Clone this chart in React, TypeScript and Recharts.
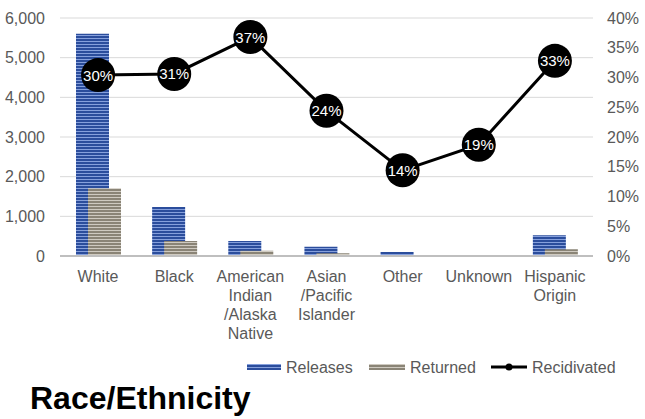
import React from 'react';
import { ComposedChart, Bar, Line, XAxis, YAxis, CartesianGrid, LabelList } from 'recharts';

const categories = ['White', 'Black', 'American Indian /Alaska Native', 'Asian /Pacific Islander', 'Other', 'Unknown', 'Hispanic Origin'];
const categoryLines = [['White'], ['Black'], ['American', 'Indian', '/Alaska', 'Native'], ['Asian', '/Pacific', 'Islander'], ['Other'], ['Unknown'], ['Hispanic', 'Origin']];
const releases = [5600, 1235, 380, 235, 100, 0, 520];
const returned = [1710, 378, 135, 68, 8, 0, 170];
const recidivated = [0.304, 0.306, 0.368, 0.244, 0.144, 0.187, 0.328];
const leftTicks = [0, 1000, 2000, 3000, 4000, 5000, 6000];
const rightTicks = [0, 0.05, 0.1, 0.15, 0.2, 0.25, 0.3, 0.35, 0.4];

const data = categories.map((c, i) => ({
  name: c,
  idx: i,
  releases: releases[i],
  returned: returned[i],
  recidivated: recidivated[i],
}));

const FONT = '"Liberation Sans", Arial, sans-serif';
const GRAY = '#595959';

const XTick = (props: any) => {
  const { x, y, payload } = props;
  const lines = categoryLines[payload.index] || [payload.value];
  return (
    <text x={x} y={y} textAnchor="middle" fill={GRAY} fontSize={16} fontFamily={FONT}>
      {lines.map((l: string, i: number) => (
        <tspan key={i} x={x} dy={i === 0 ? 18 : 19}>{l}</tspan>
      ))}
    </text>
  );
};

const CircleLabel = (props: any) => {
  const { x, y, value } = props;
  return (
    <g>
      <circle cx={x} cy={y} r={17} fill="#000" />
      <text x={x} y={y + 5.5} textAnchor="middle" fill="#fff" fontSize={15} fontFamily={FONT}>
        {Math.round(value * 100) + '%'}
      </text>
    </g>
  );
};

const LegendRow = () => (
  <svg width={645} height={30} style={{ position: 'absolute', left: 0, top: 353 }}>
    <defs>
      <pattern id="lgBlue" width="4" height="3" patternUnits="userSpaceOnUse">
        <rect width="4" height="3" fill="#2b4d9c" />
        <rect y="2" width="4" height="1" fill="#86a0dc" />
      </pattern>
      <pattern id="lgGray" width="4" height="3" patternUnits="userSpaceOnUse">
        <rect width="4" height="3" fill="#8a8476" />
        <rect y="2" width="4" height="1" fill="#cfcac0" />
      </pattern>
    </defs>
    <rect x={247} y={11} width={34} height={6} fill="url(#lgBlue)" />
    <text x={286} y={20} fontSize={16} fill={GRAY} fontFamily={FONT}>Releases</text>
    <rect x={369} y={11} width={36} height={6} fill="url(#lgGray)" />
    <text x={410} y={20} fontSize={16} fill={GRAY} fontFamily={FONT}>Returned</text>
    <line x1={491} x2={527} y1={14} y2={14} stroke="#000" strokeWidth={3} />
    <circle cx={509} cy={14} r={3.5} fill="#000" />
    <text x={532} y={20} fontSize={16} fill={GRAY} fontFamily={FONT}>Recidivated</text>
  </svg>
);

export default function App() {
  return (
    <div style={{ position: 'absolute', left: 0, top: 0, width: 645, height: 419, background: '#fff', fontFamily: FONT }}>
      <ComposedChart
        width={645}
        height={350}
        data={data}
        margin={{ top: 18, right: 0, bottom: 0, left: 0 }}
        barGap={-21}
        barSize={33}
      >
        <defs>
          <pattern id="pBlue" width="4" height="3" patternUnits="userSpaceOnUse">
            <rect width="4" height="3" fill="#2b4d9c" />
            <rect y="2" width="4" height="1" fill="#86a0dc" />
          </pattern>
          <pattern id="pGray" width="4" height="3" patternUnits="userSpaceOnUse">
            <rect width="4" height="3" fill="#8a8476" />
            <rect y="2" width="4" height="1" fill="#cfcac0" />
          </pattern>
        </defs>
        <CartesianGrid vertical={false} stroke="#d9d9d9" strokeWidth={1} yAxisId="left" />
        <XAxis
          dataKey="name"
          interval={0}
          tick={<XTick />}
          tickLine={false}
          axisLine={{ stroke: '#bfbfbf', strokeWidth: 2 }}
          height={94}
        />
        <YAxis
          yAxisId="left"
          orientation="left"
          domain={[0, 6000]}
          ticks={leftTicks}
          width={60}
          tickSize={0}
          tickMargin={15}
          axisLine={false}
          tickLine={false}
          tick={{ fill: GRAY, fontSize: 16, fontFamily: FONT }}
          tickFormatter={(v: number) => v.toLocaleString('en-US')}
        />
        <YAxis
          yAxisId="right"
          orientation="right"
          domain={[0, 0.4]}
          ticks={rightTicks}
          width={52}
          tickSize={0}
          tickMargin={14}
          axisLine={false}
          tickLine={false}
          tick={{ fill: GRAY, fontSize: 16, fontFamily: FONT, textAnchor: 'start' }}
          tickFormatter={(v: number) => Math.round(v * 100) + '%'}
        />
        <Bar yAxisId="left" dataKey="releases" fill="url(#pBlue)" isAnimationActive={false} />
        <Bar yAxisId="left" dataKey="returned" fill="url(#pGray)" isAnimationActive={false} />
        <Line
          yAxisId="right"
          dataKey="recidivated"
          stroke="#000"
          strokeWidth={3}
          dot={false}
          isAnimationActive={false}
        >
          <LabelList dataKey="recidivated" content={<CircleLabel />} />
        </Line>
      </ComposedChart>
      <LegendRow />
      <div style={{ position: 'absolute', left: 30, top: 380, fontSize: 32, fontWeight: 'bold', color: '#000', fontFamily: FONT, lineHeight: '36px', whiteSpace: 'nowrap' }}>
        Race/Ethnicity
      </div>
    </div>
  );
}
